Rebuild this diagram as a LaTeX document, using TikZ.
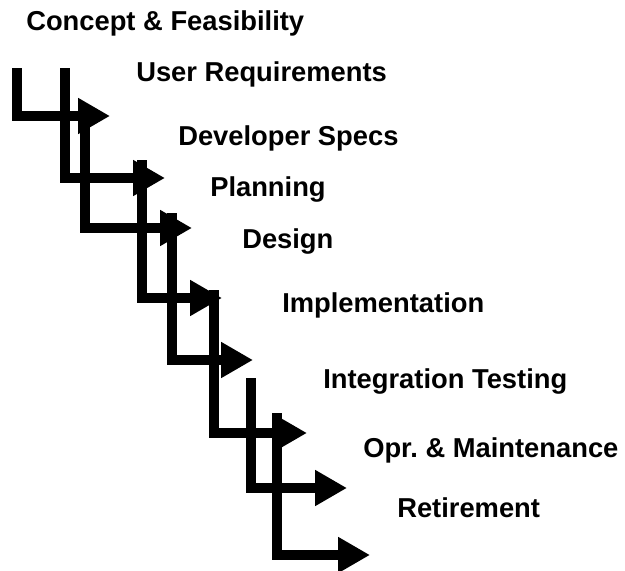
\documentclass[tikz,border=0pt]{standalone}
\usepackage{fontspec}
\setmainfont{Liberation Sans}
\usetikzlibrary{arrows.meta}
\tikzset{
  stair/.style={line width=7.9pt, line join=miter, line cap=butt,
    -{Triangle[length=24pt,width=25.5pt]}},
  lbl/.style={anchor=base west, inner sep=0pt, font=\fontsize{20.5}{24}\selectfont\bfseries}
}
\begin{document}
\begin{tikzpicture}[x=0.75pt,y=-0.75pt]
\useasboundingbox (0,0) rectangle (625,571);
% labels
\node[lbl] (l1) at (26,31) {Concept \& Feasibility};
\node[lbl] (l2) at (136,81) {User Requirements};
\node[lbl] (l3) at (178,145) {Developer Specs};
\node[lbl] (l4) at (210,196) {Planning};
\node[lbl] (l5) at (242,248) {Design};
\node[lbl] (l6) at (282,312) {Implementation};
\node[lbl] (l7) at (323,388) {Integration Testing};
\node[lbl] (l8) at (363,457) {Opr.\ \& Maintenance};
\node[lbl] (l9) at (397,517) {Retirement};
% stair arrows: start, corner, tip
\coordinate (s1) at (17,68);  \coordinate (c1) at (17,116);  \coordinate (t1) at (110,116);
\coordinate (s2) at (65,68);  \coordinate (c2) at (65,178);  \coordinate (t2) at (165,178);
\coordinate (s3) at (85,125); \coordinate (c3) at (85,228);  \coordinate (t3) at (192,228);
\coordinate (s4) at (142,160);\coordinate (c4) at (142,298); \coordinate (t4) at (222,298);
\coordinate (s5) at (172,213);\coordinate (c5) at (172,360); \coordinate (t5) at (253,360);
\coordinate (s6) at (214,290);\coordinate (c6) at (214,433); \coordinate (t6) at (307,433);
\coordinate (s7) at (251,378);\coordinate (c7) at (251,488); \coordinate (t7) at (347,488);
\coordinate (s8) at (277,413);\coordinate (c8) at (277,555); \coordinate (t8) at (370,555);
\foreach \i in {1,...,8}{
  \draw[stair] (s\i) -- (c\i) -- (t\i);
}
\end{tikzpicture}
\end{document}
